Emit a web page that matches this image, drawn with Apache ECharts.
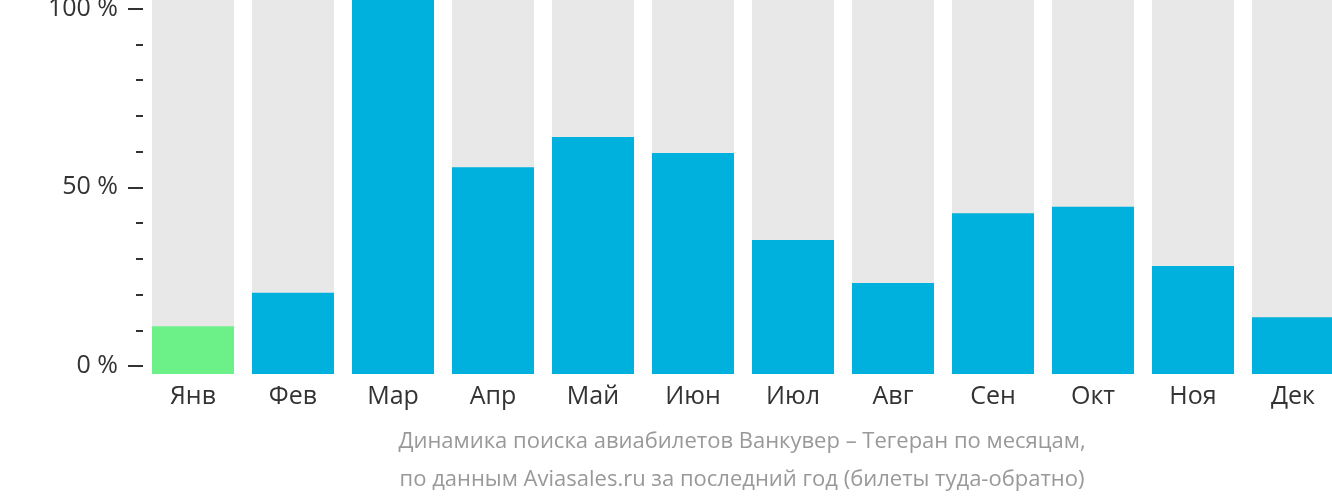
<!DOCTYPE html>
<html><head><meta charset="utf-8">
<script src="https://cdn.jsdelivr.net/npm/echarts@6/dist/echarts.min.js"></script>
<style>html,body{margin:0;padding:0;background:#fff}#c{width:1332px;height:502px}</style>
</head><body><div id="c"></div>
<script>
const months = ['Янв','Фев','Мар','Апр','Май','Июн','Июл','Авг','Сен','Окт','Ноя','Дек'];
const values = [12.8, 21.7, 100, 55.3, 63.4, 59.1, 35.8, 24.3, 43.0, 44.7, 28.9, 15.2];
const background = [100,100,100,100,100,100,100,100,100,100,100,100];
const yTicks = [0, 50, 100];
const titleLines = ['Динамика поиска авиабилетов Ванкувер – Тегеран по месяцам,', 'по данным Aviasales.ru за последний год (билеты туда-обратно)'];

const FONT = '"Open Sans", sans-serif';
const chart = echarts.init(document.getElementById('c'), null, {renderer:'canvas'});
chart.setOption({
  animation:false,
  grid:[
    {left:143, width:1200, top:8.7, height:357.3, outerBoundsMode:'none', containLabel:false},
    {left:143, width:1200, top:0, height:374, outerBoundsMode:'none', containLabel:false}
  ],
  xAxis:[
    {gridIndex:0, type:'category', data:months, show:false},
    {gridIndex:1, type:'category', data:months, axisLine:{show:false}, axisTick:{show:false},
     axisLabel:{margin:10, fontSize:25, color:'#333', fontFamily:FONT}}
  ],
  yAxis:[
    {gridIndex:0, type:'value', min:yTicks[0], max:yTicks[yTicks.length-1], interval:50,
     axisLine:{show:false}, splitLine:{show:false},
     axisTick:{show:true, length:15, lineStyle:{color:'#333', width:2}},
     minorTick:{show:true, splitNumber:5, length:7, lineStyle:{color:'#333', width:2}},
     axisLabel:{margin:25, fontSize:25, color:'#333', fontFamily:FONT, formatter: v => v + ' %'}},
    {gridIndex:1, type:'value', min:0, max:100, show:false}
  ],
  series:[
    {type:'bar', xAxisIndex:1, yAxisIndex:1, data:background, barWidth:82, itemStyle:{color:'#e8e8e8'}, silent:true},
    {type:'bar', xAxisIndex:1, yAxisIndex:1, data:values.map((v,i)=>({value:v, itemStyle:{color: i===0 ? '#6cf088' : '#00b1dd'}})),
     barWidth:82, barGap:'-100%'}
  ],
  graphic:[
    {type:'text', x:742, y:442, style:{text:titleLines[0], font:'22px '+FONT, fill:'#999', textAlign:'center', textVerticalAlign:'middle'}},
    {type:'text', x:742, y:480, style:{text:titleLines[1], font:'22px '+FONT, fill:'#999', textAlign:'center', textVerticalAlign:'middle'}}
  ]
});
</script></body></html>
